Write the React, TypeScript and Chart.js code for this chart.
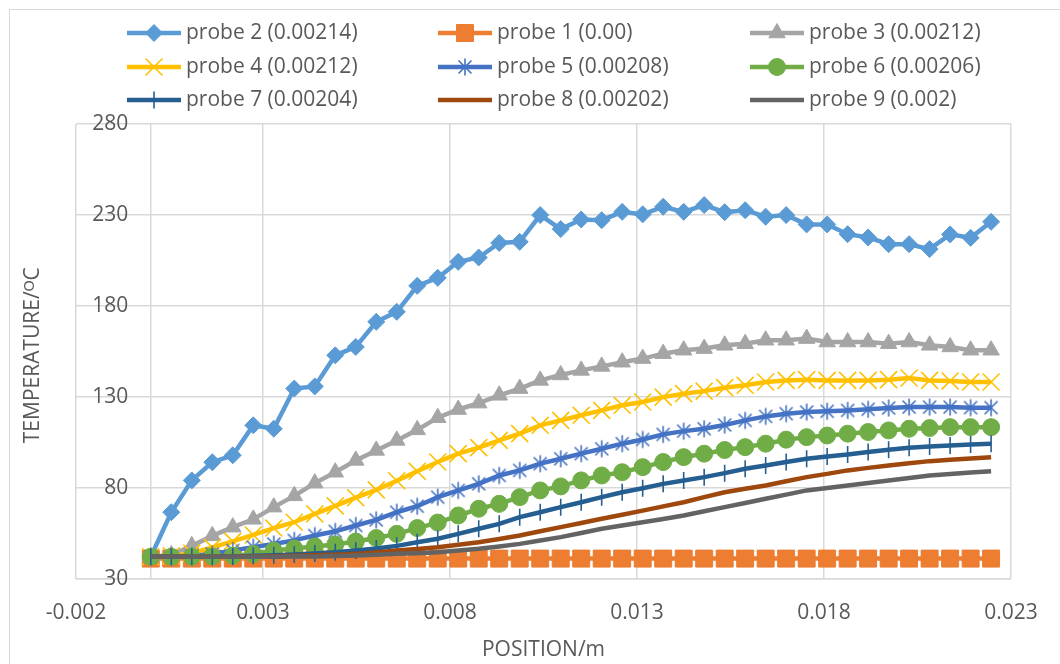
import React, { useEffect, useRef } from 'react';
import { Chart, registerables } from 'chart.js';
import { drawPoint } from 'chart.js/helpers';

Chart.register(...registerables);

// ---- data ----
const positions = [
  0, 0.000548, 0.001096, 0.001644, 0.002192, 0.00274, 0.003288, 0.003836, 0.004384, 0.004932,
  0.00548, 0.006028, 0.006576, 0.007124, 0.007672, 0.00822, 0.008768, 0.009316, 0.009864, 0.010412,
  0.01096, 0.011508, 0.012056, 0.012604, 0.013152, 0.0137, 0.014248, 0.014796, 0.015344, 0.015892,
  0.01644, 0.016988, 0.017536, 0.018084, 0.018632, 0.01918, 0.019728, 0.020276, 0.020824, 0.021372,
  0.02192, 0.022468,
];

const probe2 = [
  42, 66.5, 84, 94, 97.8, 114.3, 112.4, 134.5, 135.7, 152.8,
  157.4, 171.2, 176.7, 191, 195.4, 204.2, 206.6, 214.6, 215.2, 229.9,
  222.2, 227.5, 227.1, 231.7, 230.3, 234.5, 231.7, 235.4, 231.5, 232.6,
  229, 229.9, 224.8, 224.8, 219.4, 217.6, 213.9, 213.9, 211.2, 219.3,
  217.4, 226.2,
];
const probe1 = [
  41, 41, 41, 41, 41, 41, 41, 41, 41, 41,
  41, 41, 41, 41, 41, 41, 41, 41, 41, 41,
  41, 41, 41, 41, 41, 41, 41, 41, 41, 41,
  41, 41, 41, 41, 41, 41, 41, 41, 41, 41,
  41, 41,
];
const probe3 = [
  42, 43, 48, 53.5, 58.3, 62.6, 69.3, 75.5, 82.5, 88.5,
  95, 100.5, 106, 111.8, 118.5, 123, 126.5, 130.8, 134.5, 139,
  142, 144.5, 146.7, 149, 151, 153.7, 155.6, 156.5, 158.3, 159.2,
  161.1, 161.1, 162, 160.1, 160.1, 160.1, 159.2, 160.1, 158.3, 157.4,
  155.6, 155.6,
];
const probe4 = [
  42, 42.5, 44, 47.2, 50.5, 54, 57.8, 61, 65.6, 70,
  74.5, 78.8, 83.8, 89, 94.1, 98.7, 102, 106, 109.7, 114.3,
  117, 119.8, 122.5, 125.3, 127.1, 129.8, 131.7, 133.1, 135, 136.3,
  138.1, 139, 139.4, 139, 139, 139, 139.4, 140.3, 139, 138.7,
  138.1, 138.1,
];
const probe5 = [
  42, 42, 42.5, 43.5, 45.5, 47.3, 49, 51, 53.7, 56,
  59.2, 62.3, 66.5, 69.8, 74.8, 78.5, 82.1, 86.7, 89.5, 93.2,
  95.9, 98.7, 101.4, 104.2, 106.5, 109.3, 111.1, 112.4, 114.5, 117,
  119.2, 120.7, 121.6, 122, 122.5, 123.1, 123.8, 124.3, 124.3, 124.3,
  124, 124,
];
const probe6 = [
  42, 42, 42, 42.2, 42.6, 43.5, 45.4, 46.6, 47.6, 48.8,
  50.4, 52.3, 54.6, 57.8, 60.8, 64.7, 68.4, 71.1, 74.8, 78.5,
  80.7, 84, 86.7, 88.5, 91.3, 94.1, 96.8, 98.7, 100.7, 102.3,
  104.2, 106.4, 107.8, 108.7, 109.7, 110.6, 111.5, 112.4, 112.8, 113.3,
  113.3, 113.3,
];
const probe7 = [
  42, 42, 42, 42, 42.2, 42.5, 42.8, 43.2, 43.8, 44.5,
  45.4, 46.5, 48, 50, 51.9, 54.6, 57.4, 60.1, 63.8, 66.5,
  69.3, 72, 74.8, 77.5, 79.7, 82.1, 84, 85.8, 88, 90.4,
  92.2, 94.1, 95.9, 97.2, 98.3, 99.6, 100.9, 102, 102.7, 103.2,
  103.8, 104.2,
];
const probe8 = [
  42, 42, 42, 42, 42, 42.1, 42.3, 42.5, 42.8, 43.1,
  43.6, 44.4, 45.4, 46.3, 47.3, 48.6, 50, 51.8, 53.7, 56,
  58.3, 60.6, 62.9, 65.1, 67.4, 69.7, 72, 74.8, 77.5, 79.4,
  81.2, 83.5, 85.8, 87.6, 89.5, 90.9, 92.2, 93.4, 94.6, 95.3,
  96.1, 96.8,
];
const probe9 = [
  42, 42, 42, 42, 42, 42, 42.05, 42.1, 42.2, 42.4,
  42.7, 43.1, 43.6, 44, 44.5, 45.4, 46.4, 47.7, 49.1, 50.9,
  52.8, 55.1, 57.4, 59.2, 61, 62.8, 64.7, 67, 69.3, 71.6,
  73.9, 76.2, 78.5, 79.8, 81.2, 82.6, 84, 85.3, 86.7, 87.5,
  88.3, 89.1,
];

const seriesLabels = [
  'probe 2 (0.00214)', 'probe 1 (0.00)', 'probe 3 (0.00212)',
  'probe 4 (0.00212)', 'probe 5 (0.00208)', 'probe 6 (0.00206)',
  'probe 7 (0.00204)', 'probe 8 (0.00202)', 'probe 9 (0.002)',
];
const seriesValues = [probe2, probe1, probe3, probe4, probe5, probe6, probe7, probe8, probe9];

const xTitle = 'POSITION/m';
const yTitle = 'TEMPERATURE/ᴼC';

// ---- styles ----
const FONT = '"Open Sans", "Liberation Sans", sans-serif';
const TXT = '#595959';
const GRID = '#d9d9d9';

function makeAsterisk(color: string) {
  const c = document.createElement('canvas');
  c.width = 20; c.height = 20;
  const g = c.getContext('2d')!;
  g.strokeStyle = color; g.lineWidth = 1.6; g.lineCap = 'butt';
  g.beginPath();
  g.moveTo(10, 1.5); g.lineTo(10, 18.5);
  g.moveTo(3.5, 3.5); g.lineTo(16.5, 16.5);
  g.moveTo(16.5, 3.5); g.lineTo(3.5, 16.5);
  g.stroke();
  return c;
}

const legendColX = [127, 438, 750];
const legendRowY = [33, 67, 100];

const overlayPlugin = {
  id: 'overlayPlugin',
  afterDraw(chart: any) {
    const ctx = chart.ctx;
    chart.data.datasets.forEach((ds: any, i: number) => {
      const col = i % 3;
      const row = Math.floor(i / 3);
      const x0 = legendColX[col];
      const y = legendRowY[row];
      ctx.save();
      ctx.strokeStyle = ds.borderColor;
      ctx.lineWidth = ds.borderWidth;
      ctx.lineCap = 'butt';
      ctx.beginPath();
      ctx.moveTo(x0, y);
      ctx.lineTo(x0 + 54, y);
      ctx.stroke();
      if (ds.pointRadius > 0) {
        ctx.fillStyle = ds.pointBackgroundColor;
        ctx.strokeStyle = ds.pointBorderColor;
        ctx.lineWidth = ds.pointBorderWidth;
        drawPoint(ctx, {
          pointStyle: ds.pointStyle,
          rotation: ds.pointRotation || 0,
          radius: ds.pointRadius,
          borderWidth: ds.pointBorderWidth,
        } as any, x0 + 27, y);
      }
      ctx.fillStyle = TXT;
      ctx.font = `21px ${FONT}`;
      ctx.textAlign = 'left';
      ctx.textBaseline = 'middle';
      ctx.fillText(ds.label, x0 + 59, y);
      ctx.restore();
    });
    const ca = chart.chartArea;
    ctx.save();
    ctx.translate(33, (ca.top + ca.bottom) / 2 + 4);
    ctx.rotate(-Math.PI / 2);
    ctx.fillStyle = TXT;
    ctx.font = `21px ${FONT}`;
    ctx.textAlign = 'center';
    ctx.textBaseline = 'middle';
    ctx.fillText(yTitle, 0, 0);
    ctx.restore();
  },
};

export default function App() {
  const ref = useRef<HTMLCanvasElement | null>(null);

  useEffect(() => {
    if (!ref.current) return;
    const asterisk = makeAsterisk('#4472C4');
    const styles: any[] = [
      { color: '#5B9BD5', pointStyle: 'rectRot', radius: 8.5, rot: 0, bw: 1 },
      { color: '#ED7D31', pointStyle: 'rect', radius: 12, rot: 0, bw: 1 },
      { color: '#A5A5A5', pointStyle: 'triangle', radius: 9.5, rot: 0, bw: 1 },
      { color: '#FFC000', pointStyle: 'crossRot', radius: 12, rot: 0, bw: 1.6 },
      { color: '#4472C4', pointStyle: asterisk, radius: 10, rot: 0, bw: 1 },
      { color: '#70AD47', pointStyle: 'circle', radius: 8.5, rot: 0, bw: 1 },
      { color: '#255E91', pointStyle: 'line', radius: 8.5, rot: 90, bw: 1.6 },
      { color: '#9E480E', pointStyle: 'circle', radius: 0, rot: 0, bw: 0 },
      { color: '#636363', pointStyle: 'circle', radius: 0, rot: 0, bw: 0 },
    ];
    const datasets = seriesLabels.map((label, i) => ({
      label,
      data: positions.map((x, j) => ({ x, y: seriesValues[i][j] })),
      showLine: true,
      borderColor: styles[i].color,
      backgroundColor: styles[i].color,
      borderWidth: 4.5,
      pointStyle: styles[i].pointStyle,
      pointRadius: styles[i].radius,
      pointHoverRadius: styles[i].radius,
      pointRotation: styles[i].rot,
      pointBackgroundColor: styles[i].color,
      pointBorderColor: styles[i].color,
      pointBorderWidth: styles[i].bw,
      order: 20 - i,
      tension: 0,
      yAxisID: 'y',
    }));

    const yCommon = { type: 'linear' as const, min: 30, max: 280 };

    const chart = new Chart(ref.current, {
      type: 'scatter',
      data: { datasets },
      options: {
        responsive: false,
        animation: false,
        devicePixelRatio: 1,
        layout: { padding: { left: 76, right: 49, top: 124, bottom: 1 } },
        plugins: { legend: { display: false }, tooltip: { enabled: false } },
        scales: {
          x: {
            type: 'linear',
            min: -0.002,
            max: 0.023,
            ticks: {
              stepSize: 0.005,
              color: TXT,
              font: { family: FONT, size: 21 },
              padding: 22,
              callback: (v: any) => Number(v).toFixed(3),
            },
            grid: { color: GRID, lineWidth: 1.5, drawTicks: false },
            border: { color: GRID, width: 1.5 },
            title: {
              display: true,
              text: xTitle,
              color: TXT,
              font: { family: FONT, size: 21 },
              padding: { top: -10, bottom: 0 },
            },
          },
          y: {
            ...yCommon,
            position: { x: 0 } as any,
            ticks: { stepSize: 50, display: false },
            grid: { color: GRID, lineWidth: 1.5, drawTicks: false },
            border: { color: GRID, width: 1.5 },
          },
          yLabels: {
            ...yCommon,
            position: { x: -0.0006 } as any,
            ticks: {
              stepSize: 50,
              color: TXT,
              font: { family: FONT, size: 21 },
              padding: 0,
            },
            grid: { display: false, drawTicks: false },
            border: { display: false },
          },
        },
      },
      plugins: [overlayPlugin],
    });
    return () => chart.destroy();
  }, []);

  return (
    <div style={{ position: 'absolute', left: 0, top: 0, width: 1060, height: 664, background: '#fff' }}>
      <div style={{ position: 'absolute', left: 9, top: 9, width: 1060, height: 664, borderLeft: `1px solid ${GRID}`, borderTop: `1px solid ${GRID}` }} />
      <canvas ref={ref} width={1060} height={664} style={{ position: 'absolute', left: 0, top: 0, display: 'block' }} />
    </div>
  );
}
